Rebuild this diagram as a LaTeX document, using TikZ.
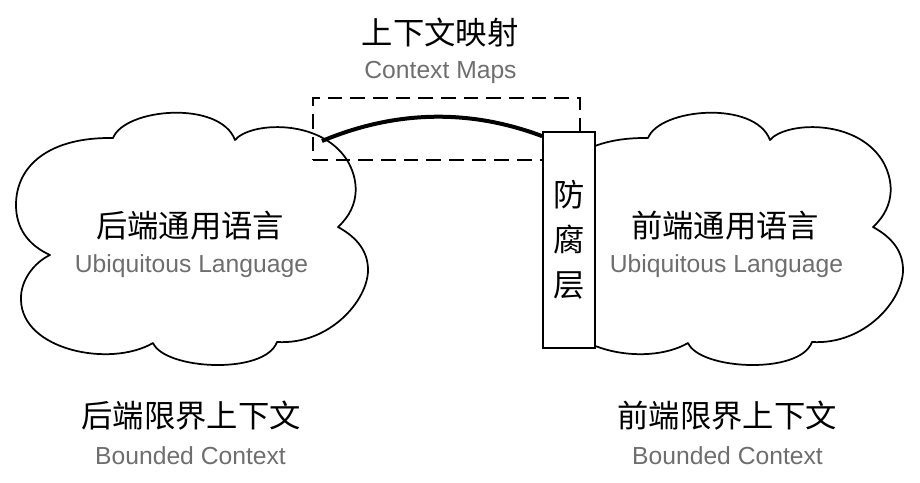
\documentclass[tikz,border=0pt]{standalone}
\usepackage{fontspec}
\setmainfont{Liberation Sans}
\newfontfamily\cjk{Noto Sans CJK SC}
\usetikzlibrary{calc}
\definecolor{subgray}{HTML}{6E6E6E}
\begin{document}
\begin{tikzpicture}[x=0.75pt,y=-0.75pt,
  cloudline/.style={draw=black,line width=1.3pt,fill=white,line join=round},
  cjktext/.style={font=\cjk\fontsize{23.5}{28}\selectfont,inner sep=0pt,anchor=base},
  entext/.style={font=\fontsize{18.5}{22}\selectfont,text=subgray,inner sep=0pt,anchor=base},
  mapbox/.style={draw=black,line width=1.1pt,dash pattern=on 11pt off 6pt,minimum width=200.25pt,minimum height=46.5pt,inner sep=0pt},
  aclbox/.style={draw=black,fill=white,line width=1.3pt,minimum width=39pt,minimum height=162pt,inner sep=0pt,align=center,font=\cjk\fontsize{23.5}{33.75}\selectfont},
  link/.style={draw=black,line width=3pt},
  cloudshape/.pic={
    \path[cloudline] (113,138) .. controls (125,108) and (220,100) .. (235,140)
      .. controls (250,122) and (320,118) .. (347,160)
      .. controls (358,178) and (362,205) .. (338,227)
      .. controls (358,238) and (368,252) .. (368,270)
      .. controls (368,300) and (330,345) .. (277,342)
      .. controls (265,375) and (165,370) .. (153,343)
      .. controls (110,368) and (22,350) .. (21,300)
      .. controls (20,280) and (35,262) .. (50,255)
      .. controls (28,245) and (16,228) .. (16,205)
      .. controls (16,165) and (50,137) .. (113,138) -- cycle;
  }]
\useasboundingbox (0,0) rectangle (920,482);
\pic at (0,0) {cloudshape};
\pic at (535,0) {cloudshape};
\node[mapbox] (ctxframe) at (446.5,129) {};
\node[aclbox] (acl) at (569,240) {防\\腐\\层};
\coordinate (lcedge) at (322,141);
\draw[link] (lcedge) .. controls (396,110) and (470,109) .. ($(acl.north west)+(0,5)$);
\node[cjktext] (ctxmapzh) at (440,44.8) {上下文映射};
\node[entext] (ctxmapen) at (440.5,78) {Context Maps};
\node[cjktext] (backul) at (190,237.8) {后端通用语言};
\node[entext] (backulen) at (191.5,272) {Ubiquitous Language};
\node[cjktext] (frontul) at (725,237.8) {前端通用语言};
\node[entext] (frontulen) at (726.5,272) {Ubiquitous Language};
\node[cjktext] (backbc) at (191,427.3) {后端限界上下文};
\node[entext] (backbcen) at (190.5,464) {Bounded Context};
\node[cjktext] (frontbc) at (727,427.3) {前端限界上下文};
\node[entext] (frontbcen) at (727.5,464) {Bounded Context};
\end{tikzpicture}
\end{document}
